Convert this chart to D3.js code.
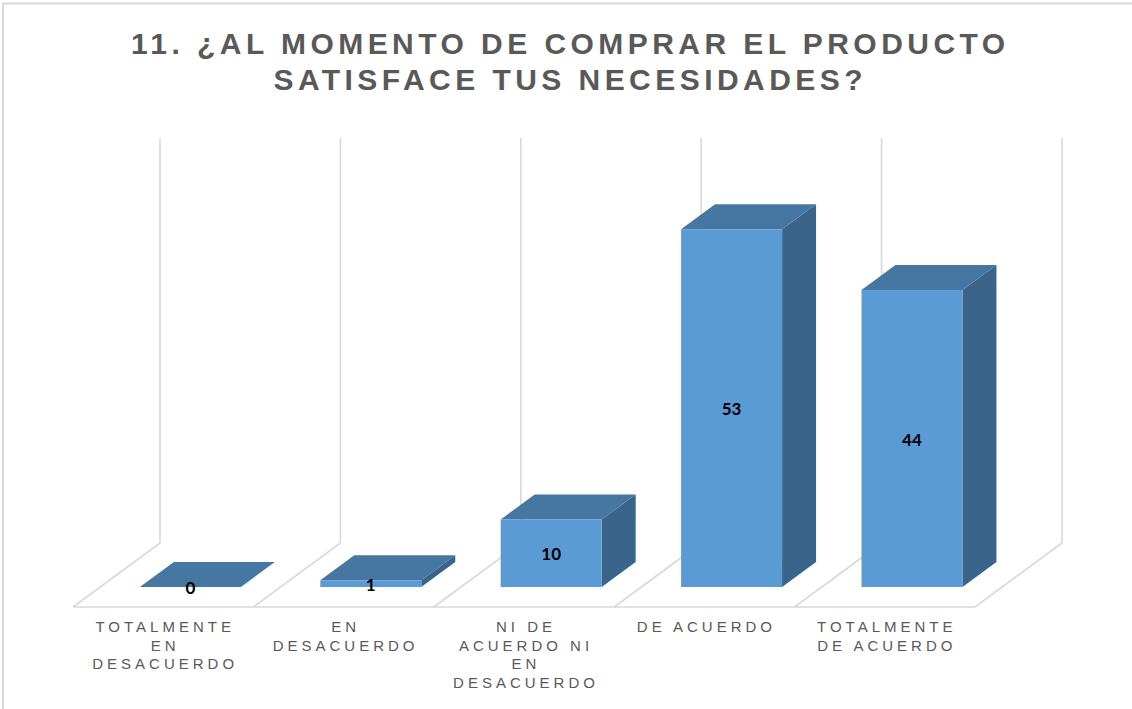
<!DOCTYPE html>
<html>
<head>
<meta charset="utf-8">
<script src="https://cdn.jsdelivr.net/npm/d3@7"></script>
<style>
  html, body { margin: 0; padding: 0; background: #fff; }
  svg { display: block; }
</style>
</head>
<body>
<svg id="chart" width="1132" height="709"></svg>
<script>
// Survey question 11: answer counts per agreement level
const titleLines = ["11. ¿AL MOMENTO DE COMPRAR EL PRODUCTO", "SATISFACE TUS NECESIDADES?"];
const categories = [
  "TOTALMENTE EN DESACUERDO",
  "EN DESACUERDO",
  "NI DE ACUERDO NI EN DESACUERDO",
  "DE ACUERDO",
  "TOTALMENTE DE ACUERDO"
];
const values = [0, 1, 10, 53, 44];
const valueMax = 60;

const svg = d3.select("#chart");
const W = 1132, H = 709;

// chart frame (only top and left edges fall inside the canvas)
svg.append("rect")
  .attr("x", 3).attr("y", 3.5).attr("width", W + 10).attr("height", H + 10)
  .attr("fill", "#fff").attr("stroke", "#d9d9d9").attr("stroke-width", 2);

// 3D floor geometry: front edge of the floor and the depth vector toward the back wall
const floorFrontY = 607;
const depth = { x: 87, y: -64 };
const zFront = 0.3125, zBack = 0.703;   // bar slab position inside the floor depth
const barW = 101;

const x = d3.scaleBand().domain(categories).range([73, 975]).padding(0);
const h = d3.scaleLinear().domain([0, valueMax]).range([0, 405]);

const grid = "#d9d9d9";
const wallBottom = floorFrontY + depth.y;
const bounds = categories.map(c => x(c)).concat([x.range()[1]]);

const gridG = svg.append("g").attr("stroke", grid).attr("stroke-width", 1.6).attr("fill", "none");
// back wall verticals
bounds.forEach(b => {
  gridG.append("line")
    .attr("x1", b + depth.x).attr("x2", b + depth.x)
    .attr("y1", wallBottom).attr("y2", wallBottom - h(valueMax));
});
// floor diagonals
bounds.forEach(b => {
  gridG.append("line")
    .attr("x1", b).attr("y1", floorFrontY)
    .attr("x2", b + depth.x).attr("y2", wallBottom);
});
// floor front edge
gridG.append("line")
  .attr("x1", x.range()[0]).attr("x2", x.range()[1])
  .attr("y1", floorFrontY).attr("y2", floorFrontY);

// bars
const colFront = "#5b9bd5", colTop = "#4676a2", colSide = "#3a6489";
const bars = svg.append("g");
categories.forEach((c, i) => {
  const v = values[i];
  const fx = x(c) + (x.bandwidth() - barW) / 2 + depth.x * zFront;
  const fy = floorFrontY + depth.y * zFront;           // front bottom
  const dx = depth.x * (zBack - zFront), dy = depth.y * (zBack - zFront);
  const top = fy - h(v);
  const g = bars.append("g");
  // right side face
  if (h(v) > 0) {
    g.append("path")
      .attr("d", `M${fx + barW},${fy} L${fx + barW + dx},${fy + dy} L${fx + barW + dx},${top + dy} L${fx + barW},${top} Z`)
      .attr("fill", colSide);
  }
  // top face
  g.append("path")
    .attr("d", `M${fx},${top} L${fx + barW},${top} L${fx + barW + dx},${top + dy} L${fx + dx},${top + dy} Z`)
    .attr("fill", colTop);
  // front face
  if (h(v) > 0) {
    g.append("rect")
      .attr("x", fx).attr("y", top).attr("width", barW).attr("height", h(v))
      .attr("fill", colFront);
  }
  // value label, centred on the front face
  g.append("text")
    .attr("x", fx + barW / 2)
    .attr("y", (top + fy) / 2 + 1)
    .attr("dy", "0.36em")
    .attr("text-anchor", "middle")
    .attr("font-family", "Lato, 'Open Sans', sans-serif")
    .attr("font-weight", "bold")
    .attr("font-size", 17)
    .attr("fill", "#000")
    .text(v);
});

// title
const titleSpacing = 4.45;
const title = svg.append("g")
  .attr("font-family", "'Liberation Sans', Arial, sans-serif")
  .attr("font-weight", "bold")
  .attr("font-size", 30)
  .attr("fill", "#595959")
  .attr("letter-spacing", titleSpacing);
titleLines.forEach((t, i) => {
  title.append("text")
    .attr("x", 568 + titleSpacing / 2)
    .attr("y", 54 + i * 36)
    .attr("text-anchor", "middle")
    .text(t);
});

// category labels, wrapped to the band width
const labelSpacing = 4;
const labelG = svg.append("g")
  .attr("font-family", "'Liberation Sans', Arial, sans-serif")
  .attr("font-size", 15)
  .attr("fill", "#595959")
  .attr("letter-spacing", labelSpacing);

function wrap(str, maxW) {
  const probe = labelG.append("text");
  const words = str.split(" ");
  const lines = [];
  let cur = "";
  words.forEach(w => {
    const tryLine = cur ? cur + " " + w : w;
    probe.text(tryLine);
    if (cur && probe.node().getComputedTextLength() > maxW) {
      lines.push(cur);
      cur = w;
    } else {
      cur = tryLine;
    }
  });
  if (cur) lines.push(cur);
  probe.remove();
  return lines;
}

categories.forEach(c => {
  const lines = wrap(c, 155);
  const cx = x(c) + x.bandwidth() / 2 + labelSpacing / 2;
  const t = labelG.append("text")
    .attr("x", cx)
    .attr("y", 632)
    .attr("text-anchor", "middle");
  lines.forEach((ln, j) => {
    t.append("tspan")
      .attr("x", cx)
      .attr("dy", j === 0 ? 0 : 18.6)
      .text(ln);
  });
});
</script>
</body>
</html>
